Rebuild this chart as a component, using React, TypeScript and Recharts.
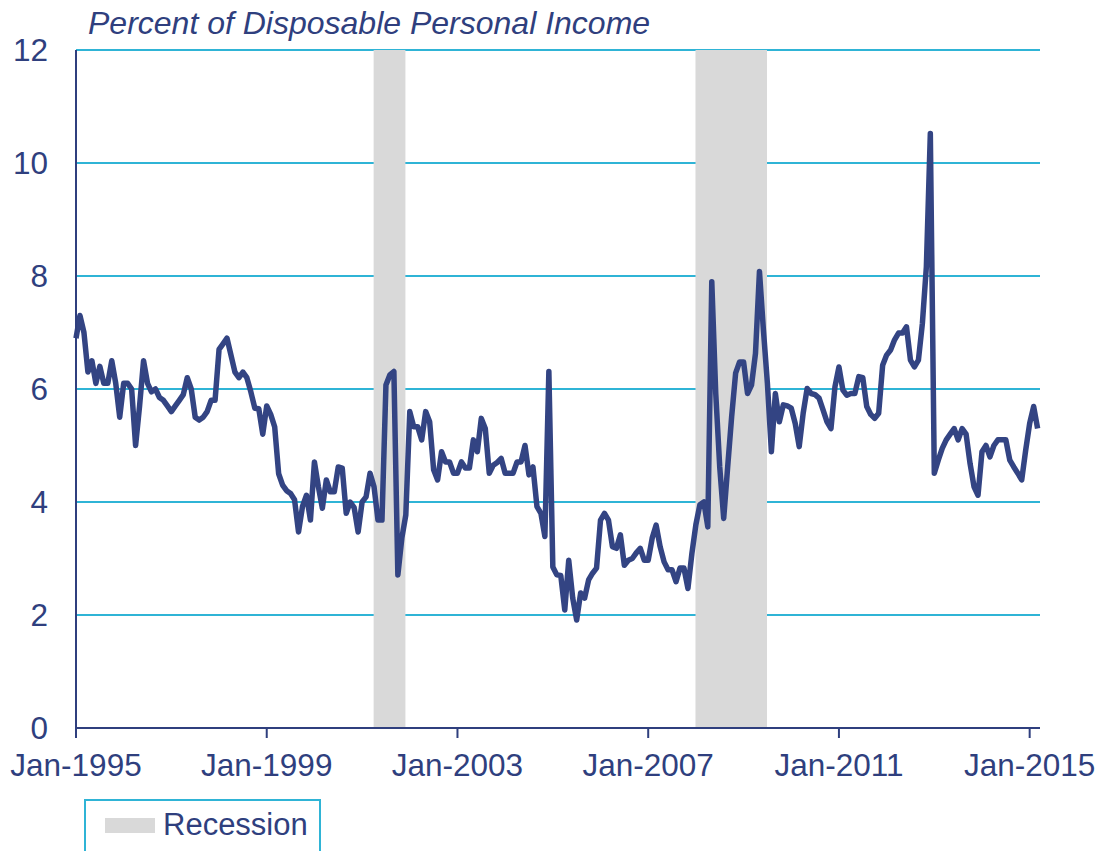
import React from 'react';
import {
  CartesianGrid,
  Line,
  LineChart,
  ReferenceArea,
  XAxis,
  YAxis,
} from 'recharts';

// personal saving rate, monthly from Jan-1995, percent of disposable income
const savingRate = [
  6.9, 7.3, 7.0, 6.3, 6.5, 6.1, 6.4, 6.1, 6.1, 6.5, 6.1, 5.5, // 1995
  6.1, 6.1, 6.0, 5.0, 5.7, 6.5, 6.1, 5.95, 6.0, 5.85, 5.8, 5.7, // 1996
  5.6, 5.7, 5.8, 5.9, 6.2, 6.0, 5.5, 5.45, 5.5, 5.6, 5.8, 5.8, // 1997
  6.7, 6.8, 6.9, 6.6, 6.3, 6.2, 6.3, 6.2, 5.95, 5.66, 5.65, 5.2, // 1998
  5.7, 5.55, 5.33, 4.5, 4.3, 4.2, 4.15, 4.04, 3.47, 3.92, 4.12, 3.68, // 1999
  4.71, 4.27, 3.89, 4.39, 4.18, 4.18, 4.62, 4.6, 3.8, 4.0, 3.9, 3.47, // 2000
  4.0, 4.09, 4.51, 4.27, 3.68, 3.68, 6.07, 6.25, 6.31, 2.71, 3.36, 3.77, // 2001
  5.6, 5.33, 5.33, 5.1, 5.6, 5.42, 4.57, 4.39, 4.89, 4.71, 4.71, 4.51, // 2002
  4.51, 4.71, 4.6, 4.6, 5.1, 4.89, 5.48, 5.3, 4.51, 4.65, 4.7, 4.77, // 2003
  4.51, 4.51, 4.51, 4.71, 4.71, 5.0, 4.48, 4.62, 3.92, 3.8, 3.39, 6.31, // 2004
  2.85, 2.71, 2.7, 2.09, 2.97, 2.3, 1.91, 2.39, 2.3, 2.62, 2.74, 2.83, // 2005
  3.68, 3.8, 3.68, 3.21, 3.18, 3.42, 2.88, 2.97, 3.0, 3.1, 3.18, 2.97, // 2006
  2.97, 3.36, 3.59, 3.21, 2.94, 2.8, 2.8, 2.59, 2.83, 2.83, 2.47, 3.09, // 2007
  3.6, 3.95, 4.0, 3.56, 7.9, 5.92, 4.62, 3.71, 4.62, 5.51, 6.28, 6.48, // 2008
  6.48, 5.92, 6.07, 6.63, 8.08, 7.04, 6.1, 4.89, 5.92, 5.42, 5.72, 5.7, // 2009
  5.66, 5.39, 4.98, 5.57, 6.01, 5.92, 5.9, 5.84, 5.63, 5.42, 5.3, 6.04, // 2010
  6.39, 5.98, 5.89, 5.92, 5.92, 6.22, 6.2, 5.69, 5.55, 5.48, 5.57, 6.42, // 2011
  6.6, 6.69, 6.87, 6.99, 6.99, 7.1, 6.51, 6.39, 6.51, 7.16, 8.16, 10.52, // 2012
  4.51, 4.74, 4.95, 5.1, 5.2, 5.3, 5.1, 5.3, 5.2, 4.68, 4.27, 4.12, // 2013
  4.89, 5.0, 4.8, 5.0, 5.1, 5.1, 5.1, 4.74, 4.62, 4.51, 4.39, 4.92, // 2014
  5.39, 5.69, 5.3, // 2015
];

const startYear = 1995;
const xTickLabels = ['Jan-1995', 'Jan-1999', 'Jan-2003', 'Jan-2007', 'Jan-2011', 'Jan-2015'];
const yTicks = [0, 2, 4, 6, 8, 10, 12];

// recession months, first and last
const recessionStarts = ['2001-04', '2008-01'];
const recessionEnds = ['2001-11', '2009-06'];

const NAVY = '#2f3f7e';
const LINE = '#334483';
const CYAN = '#2fb4d6';
const GRAY = '#d9d9d9';
const FONT = '"Liberation Sans", Arial, sans-serif';

const monthIndex = (s: string) => {
  const [y, m] = s.split('-').map(Number);
  return (y - startYear) * 12 + (m - 1);
};

const data = savingRate.map((v, i) => ({ m: i, rate: v }));
const xTicks = xTickLabels.map((l) => (Number(l.slice(4)) - startYear) * 12);

export default function App() {
  return (
    <div style={{ position: 'absolute', left: 0, top: 0, width: 1101, height: 851, background: '#fff', fontFamily: FONT }}>
      <div
        style={{
          position: 'absolute',
          left: 88,
          top: 7,
          fontSize: 32,
          lineHeight: '32px',
          fontStyle: 'italic',
          color: NAVY,
          whiteSpace: 'nowrap',
        }}
      >
        Percent of Disposable Personal Income
      </div>
      <LineChart
        width={1101}
        height={851}
        data={data}
        margin={{ top: 50, right: 61, bottom: 63, left: 0 }}
      >
        <CartesianGrid vertical={false} stroke={CYAN} strokeWidth={2} />
        {recessionStarts.map((s, i) => (
          <ReferenceArea
            key={s}
            x1={monthIndex(s) - 0.1}
            x2={monthIndex(recessionEnds[i]) + 0.9}
            fill={GRAY}
            fillOpacity={1}
            stroke="none"
          />
        ))}
        <XAxis
          dataKey="m"
          type="number"
          domain={[0, 242.6]}
          ticks={xTicks}
          tickFormatter={(v: number) => xTickLabels[xTicks.indexOf(v)]}
          height={60}
          axisLine={{ stroke: NAVY, strokeWidth: 2 }}
          tickLine={{ stroke: NAVY, strokeWidth: 2 }}
          tickSize={10}
          tickMargin={16}
          tick={{ fill: NAVY, fontSize: 31.5, fontFamily: FONT }}
          interval={0}
        />
        <YAxis
          domain={[0, 12]}
          ticks={yTicks}
          width={76}
          axisLine={{ stroke: NAVY, strokeWidth: 2 }}
          tickLine={false}
          tickSize={0}
          tickMargin={28}
          tick={{ fill: NAVY, fontSize: 31.5, fontFamily: FONT }}
          interval={0}
        />
        <Line
          type="linear"
          dataKey="rate"
          stroke={LINE}
          strokeWidth={5.5}
          strokeLinejoin="round"
          dot={false}
          isAnimationActive={false}
        />
      </LineChart>
      <div
        style={{
          position: 'absolute',
          left: 84,
          top: 799,
          width: 233,
          height: 60,
          border: `2px solid ${CYAN}`,
        }}
      >
        <div style={{ position: 'absolute', left: 19, top: 17, width: 50, height: 15, background: GRAY }} />
        <div
          style={{
            position: 'absolute',
            left: 77,
            top: 8,
            fontSize: 31,
            lineHeight: '31px',
            color: NAVY,
            whiteSpace: 'nowrap',
          }}
        >
          Recession
        </div>
      </div>
    </div>
  );
}
